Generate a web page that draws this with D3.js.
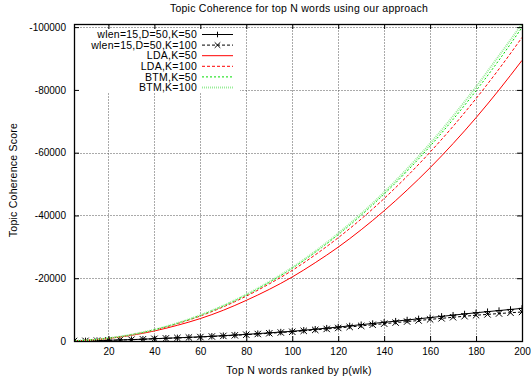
<!DOCTYPE html>
<html><head><meta charset="utf-8">
<script src="https://cdn.jsdelivr.net/npm/d3@7"></script>
<style>
body{margin:0;background:#fff}
svg{display:block}
text{font-family:"Liberation Sans",Arial,Helvetica,sans-serif;}
.lbl{font-size:10.5px;letter-spacing:0.25px}
</style>
</head><body><svg id="c" width="531" height="379"></svg>
<script>
// ---- data ----
const xWlen = [5,10,15,20,25,30,35,40,45,50,55,60,65,70,75,80,85,90,95,100,
               105,110,115,120,125,130,135,140,145,150,155,160,165,170,175,180,185,190,195,200];
const wlen50 = [-10,-50,-120,-230,-330,-440,-580,-740,-880,-1020,-1170,-1320,-1510,-1700,-1900,-2120,-2350,-2600,-2850,-3100,
                -3430,-3760,-4100,-4450,-4820,-5200,-5580,-5960,-6330,-6700,-7070,-7450,-7850,-8230,-8620,-9000,-9350,-9700,-10050,-10400];
const wlen100 = [-10,-50,-110,-210,-310,-420,-550,-700,-840,-980,-1120,-1260,-1440,-1620,-1810,-2010,-2230,-2460,-2700,-2940,
                 -3230,-3530,-3840,-4150,-4480,-4820,-5170,-5520,-5860,-6190,-6530,-6880,-7220,-7560,-7890,-8210,-8480,-8750,-9000,-9240];
const xCurve = [5,10,20,30,40,50,60,70,80,90,100,110,120,130,140,150,160,170,180,190,200];
const lda50 = [-50,-200,-800,-1800,-3200,-5000,-7150,-9800,-12950,-16450,-20400,-24950,-29900,-35450,-41500,-48100,-55200,-62900,-71150,-80000,-89400];
const lda100 = [-60,-220,-870,-1970,-3520,-5520,-7970,-10880,-14300,-18200,-22500,-27450,-32900,-38870,-45400,-52500,-60170,-68400,-77240,-86670,-96700];
const btm50 = [-60,-230,-890,-2010,-3600,-5650,-8170,-11170,-14680,-18680,-23150,-28260,-33880,-40060,-46810,-54140,-62070,-70600,-79740,-89500,-99900];
const btm100 = [-60,-230,-900,-2030,-3630,-5700,-8240,-11270,-14820,-18870,-23390,-28560,-34260,-40530,-47380,-54840,-62920,-71630,-80960,-90900,-101000];
const seriesNames = ["wlen=15,D=50,K=50","wlen=15,D=50,K=100","LDA,K=50","LDA,K=100","BTM,K=50","BTM,K=100"];
const xTicks = [20,40,60,80,100,120,140,160,180,200];
const yTicks = [0,-20000,-40000,-60000,-80000,-100000];
const titleText = "Topic Coherence for top N words using our approach";
const xLabel = "Top N words ranked by p(wlk)";
const yLabel = "Topic Coherence Score";

// ---- styles ----
const styles = [
  {color:"#000", width:1, dash:null, marker:"plus"},
  {color:"#000", width:1, dash:"3,2", marker:"cross"},
  {color:"#ff0000", width:1, dash:null},
  {color:"#ff0000", width:1, dash:"3,2"},
  {color:"#00dd00", width:1, dash:"2,2"},
  {color:"#99ee99", width:2, dash:"1,1"}
];

const L=74, R=522, T=24, B=341;
const svg = d3.select("#c");
const x = d3.scaleLinear().domain([5,200]).range([L,R]);
const y = d3.scaleLinear().domain([0,-101000]).range([B,T]);
const px = v => Math.round(v)+0.5;

// grid
const grid = svg.append("g").attr("stroke","#555").attr("stroke-dasharray","1,2").attr("stroke-width",1);
grid.selectAll("line.gx").data(xTicks.filter(d=>d<200)).join("line")
  .attr("x1",d=>px(x(d))).attr("x2",d=>px(x(d))).attr("y1",T+0.5).attr("y2",B+0.5);
grid.selectAll("line.gy").data(yTicks.filter(d=>d!==0)).join("line")
  .attr("y1",d=>px(y(d))).attr("y2",d=>px(y(d))).attr("x1",L+0.5).attr("x2",R+0.5);

// legend opaque background
svg.append("rect").attr("x",L+1).attr("y",29).attr("width",240-L-1).attr("height",64).attr("fill","#fff");

// clip
svg.append("clipPath").attr("id","clip").append("rect").attr("x",L).attr("y",T).attr("width",R-L+1).attr("height",B-T+1);

// data
const dataG = svg.append("g").attr("clip-path","url(#clip)");
const allSeries = [
  {xs:xWlen, ys:wlen50},
  {xs:xWlen, ys:wlen100},
  {xs:xCurve, ys:lda50},
  {xs:xCurve, ys:lda100},
  {xs:xCurve, ys:btm50},
  {xs:xCurve, ys:btm100}
];
const markerPath = (type, cx, cy, s) => type==="plus"
  ? `M${cx-s},${cy}H${cx+s}M${cx},${cy-s}V${cy+s}`
  : `M${cx-s},${cy-s}L${cx+s},${cy+s}M${cx-s},${cy+s}L${cx+s},${cy-s}`;

allSeries.forEach((s,i)=>{
  const st = styles[i];
  const pts = s.xs.map((xv,j)=>[xv,s.ys[j]]);
  const line = d3.line().x(d=>x(d[0])).y(d=>y(d[1]))
    .curve(st.marker ? d3.curveLinear : d3.curveMonotoneX);
  dataG.append("path").attr("d",line(pts)).attr("fill","none")
    .attr("stroke",st.color).attr("stroke-width",st.width)
    .attr("stroke-dasharray",st.dash);
  if(st.marker){
    dataG.append("g").selectAll("path").data(pts).join("path")
      .attr("d",d=>markerPath(st.marker,x(d[0]),y(d[1]),3.2))
      .attr("stroke","#000").attr("stroke-width",1).attr("fill","none");
  }
});

// axes (inward ticks, mirrored)
const fmt = d=>String(d);
const styleAxis = g=>{
  g.select(".domain").remove();
  g.attr("font-family",'"Liberation Sans",Arial,sans-serif').attr("font-size",10);
  g.selectAll("line").attr("stroke","#000");
  g.selectAll("text").attr("fill","#000");
};
svg.append("g").attr("transform",`translate(0,${B})`)
  .call(d3.axisBottom(x).tickValues(xTicks).tickSizeInner(-5).tickSizeOuter(0).tickPadding(7).tickFormat(fmt))
  .call(styleAxis);
svg.append("g").attr("transform",`translate(0,${T})`)
  .call(d3.axisTop(x).tickValues(xTicks).tickSizeInner(-5).tickSizeOuter(0).tickFormat(""))
  .call(styleAxis);
svg.append("g").attr("transform",`translate(${L},0)`)
  .call(d3.axisLeft(y).tickValues(yTicks).tickSizeInner(-5).tickSizeOuter(0).tickPadding(8).tickFormat(fmt))
  .call(styleAxis);
svg.append("g").attr("transform",`translate(${R},0)`)
  .call(d3.axisRight(y).tickValues(yTicks).tickSizeInner(-5).tickSizeOuter(0).tickFormat(""))
  .call(styleAxis);

// frame
svg.append("rect").attr("x",L+0.5).attr("y",T+0.5).attr("width",R-L).attr("height",B-T)
  .attr("fill","none").attr("stroke","#000").attr("stroke-width",1.3);

// legend
const lg = svg.append("g");
seriesNames.forEach((name,i)=>{
  const st = styles[i];
  const yy = 34.5 + i*10.6;
  lg.append("text").attr("class","lbl").attr("x",197).attr("y",yy).attr("dy","0.35em").attr("text-anchor","end").attr("fill","#000").text(name);
  lg.append("line").attr("x1",202).attr("x2",233).attr("y1",yy).attr("y2",yy)
    .attr("stroke",st.color).attr("stroke-width",st.width).attr("stroke-dasharray",st.dash);
  if(st.marker){
    lg.append("path").attr("d",markerPath(st.marker,217.5,yy,2.8)).attr("stroke","#000").attr("fill","none");
  }
});

// titles
svg.append("text").attr("class","lbl").attr("x",299).attr("y",12).attr("text-anchor","middle").attr("fill","#000").text(titleText);
svg.append("text").attr("class","lbl").attr("x",299).attr("y",374).attr("text-anchor","middle").attr("fill","#000").text(xLabel);
svg.append("text").attr("class","lbl").attr("transform","translate(16.5,180) rotate(-90)").attr("text-anchor","middle").attr("fill","#000").text(yLabel);
</script>
</body></html>
